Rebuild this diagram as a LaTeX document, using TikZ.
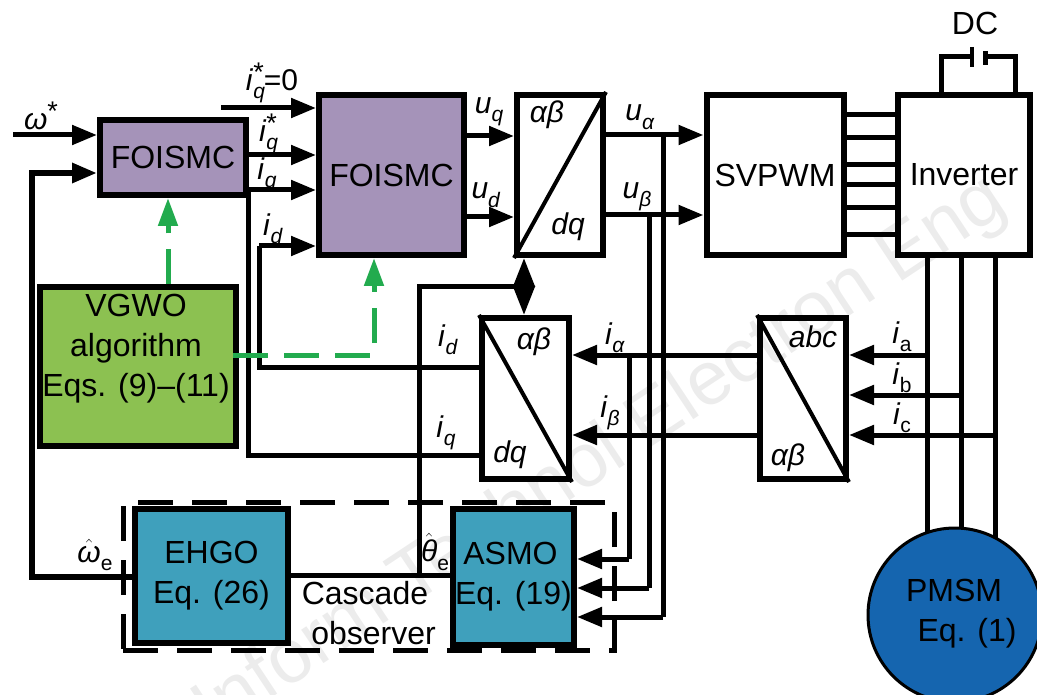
\documentclass[tikz,border=0pt]{standalone}
\usepackage{fontspec}
\setmainfont{Liberation Sans}
\usetikzlibrary{arrows.meta}
\definecolor{foiscol}{HTML}{A593B9}
\definecolor{vgwocol}{HTML}{8CC151}
\definecolor{obscol}{HTML}{3FA0BC}
\definecolor{pmsmcol}{HTML}{1565AF}
\definecolor{flowgreen}{HTML}{22AB4E}
\newcommand{\subx}[1]{\raisebox{-.28em}{\fontsize{21}{21}\selectfont #1}}
\newcommand{\starsub}[1]{\rlap{\subx{#1}}\raisebox{.3em}{\fontsize{27}{27}\selectfont *}}
\newcommand{\hatx}[1]{$\hat{\mbox{\textit{#1}}}$}
\tikzset{
    block/.style={draw,line width=6pt,inner sep=0pt,align=center,font=\fontsize{32}{40}\selectfont},
    lab/.style={inner sep=0pt,font=\fontsize{30}{34}\selectfont},
    txt/.style={inner sep=0pt,align=center,font=\fontsize{32}{40}\selectfont},
    sig/.style={line width=5pt,-{Triangle[length=25pt,width=19pt]}},
    wire/.style={line width=5pt},
    green flow/.style={flowgreen,line width=5pt,dash pattern=on 35pt off 16pt,-{Triangle[length=28pt,width=19pt]}},
    diag/.style={line width=4pt}
}
\begin{document}
\begin{tikzpicture}[x=1pt,y=-1pt]
    \useasboundingbox (0,0) rectangle (1037,695);
    \clip (0,0) rectangle (1037,695);
    \node[inner sep=0pt,rotate=33.5,text=gray!15,font=\fontsize{76}{76}\selectfont] (mark) at (601,457) {Inform Technol Electron Eng};
    \node[draw,line width=5pt,dash pattern=on 35pt off 19pt,inner sep=0pt,minimum width=491pt,minimum height=148pt] (casc) at (368.5,576) {};
    \node[block,fill=foiscol,minimum width=146pt,minimum height=75pt] (foisa) at (173,157.5) {FOISMC};
    \node[block,fill=foiscol,minimum width=145pt,minimum height=160pt] (foisb) at (391.5,175) {FOISMC};
    \node[block,minimum width=86pt,minimum height=160pt] (dqa) at (560,175) {};
    \node[block,minimum width=137pt,minimum height=160pt] (svpwm) at (775,175) {SVPWM};
    \node[block,minimum width=132pt,minimum height=160pt] (inv) at (964,175) {Inverter};
    \node[block,fill=vgwocol,minimum width=196pt,minimum height=158pt] (vgwo) at (138,366.5) {};
    \node[txt] (vgwotxt) at (136,349) {VGWO\\algorithm\\Eqs. (9)--(11)};
    \node[block,minimum width=87pt,minimum height=161pt] (dqb) at (525.5,398.5) {};
    \node[block,minimum width=86pt,minimum height=161pt] (abc) at (803,398.5) {};
    \node[block,fill=obscol,minimum width=153pt,minimum height=134pt] (ehgo) at (211.5,576) {EHGO\\Eq. (26)};
    \node[block,fill=obscol,minimum width=121pt,minimum height=136pt] (asmo) at (513.5,577) {ASMO\hspace*{6pt}\\Eq. (19)};
    \node[circle,draw,fill=pmsmcol,line width=3pt,minimum size=174pt,inner sep=0pt] (pmsm) at (955,615) {};
    \node[txt] (pmsmtxt) at (954,614) {PMSM\\\hspace*{26pt}Eq. (1)};
    \node[txt] (casctxt) at (365,613) {Cascade\\\hspace*{17pt}observer};
    \node[txt] (dc) at (975,23) {DC};

    \draw[diag] (dqa.south west) -- (dqa.north east);
    \draw[diag] (dqb.north west) -- (dqb.south east);
    \draw[diag] (abc.north west) -- (abc.south east);

    \coordinate (wref) at (13,135);
    \coordinate (idref) at (221,108);
    \draw[sig] (wref) -- (foisa.west |- wref);
    \draw[sig] (idref) -- (foisb.west |- idref);
    \draw[sig] (foisa.east |- 0,155) -- (foisb.west |- 0,155);
    \draw[sig] (foisa.east |- 0,190) -- (foisb.west |- 0,190);
    \draw[sig] (foisb.east |- 0,136) -- (dqa.west |- 0,136);
    \draw[sig] (foisb.east |- 0,217) -- (dqa.west |- 0,217);
    \draw[sig] (dqa.east |- 0,135) -- (svpwm.west |- 0,135);
    \draw[sig] (dqa.east |- 0,215) -- (svpwm.west |- 0,215);
    \foreach \y in {115,138,165,185,208,235}
        \draw[wire] (svpwm.east |- 0,\y) -- (inv.west |- 0,\y);

    \draw[wire] (dqb.west |- 0,367) -- (259,367) -- (259,246);
    \draw[sig] (259,246) -- (foisb.west |- 0,246);
    \draw[wire] (foisa.east |- 0,190) -- (248,190) -- (248,455) -- (dqb.west |- 0,455);
    \draw[sig,line width=6pt] (ehgo.west |- 0,577) -- (32,577) -- (32,173) -- (foisa.west |- 0,173);
    \draw[wire] (ehgo.east |- 0,575) -- (asmo.west |- 0,575);
    \draw[wire] (419,575) -- (419,287) -- (524,287);
    \draw[line width=5pt,{Triangle[length=29pt,width=21pt]}-{Triangle[length=29pt,width=21pt]}] (dqa.south -| 524,0) -- (dqb.north -| 524,0);

    \draw[sig] (abc.west |- 0,355) -- (dqb.east |- 0,355);
    \draw[sig] (abc.west |- 0,435) -- (dqb.east |- 0,435);
    \foreach \x/\yend in {927/533,961/528,995/538}
        \draw[wire] (inv.south -| \x,0) -- (\x,\yend);
    \draw[sig] (927,355) -- (abc.east |- 0,355);
    \draw[sig] (961,395) -- (abc.east |- 0,395);
    \draw[sig] (995,435) -- (abc.east |- 0,435);

    \draw[wire] (629,355) -- (629,559);
    \draw[sig] (629,559) -- (asmo.east |- 0,559);
    \draw[wire] (649,215) -- (649,588);
    \draw[sig] (649,588) -- (asmo.east |- 0,588);
    \draw[wire] (663,135) -- (663,617);
    \draw[sig] (663,617) -- (asmo.east |- 0,617);

    \draw[wire] (inv.north -| 941,0) -- (941,57) -- (972,57);
    \draw[wire] (inv.north -| 1015,0) -- (1015,57) -- (985,57);
    \draw[line width=3.5pt] (972,47) -- (972,67);
    \draw[line width=5pt] (985,51) -- (985,65);

    \draw[green flow] (vgwo.north -| 168,0) -- (foisa.south -| 168,0);
    \draw[green flow] ([xshift=-6pt]vgwo.east |- 0,355) -- (374,355) -- (foisb.south -| 374,0);

    \node[lab] (lw) at (41,116) {\textit{ω}\raisebox{.3em}{\fontsize{27}{27}\selectfont *}};
    \node[lab] (lizero) at (272,83) {\textit{i}\starsub{\textit{q}}=0};
    \node[lab] (listar) at (268,134) {\textit{i}\starsub{\textit{q}}};
    \node[lab] (liqa) at (267,175) {\textit{i}\subx{\textit{q}}};
    \node[lab] (lida) at (273,229) {\textit{i}\subx{\textit{d}}};
    \node[lab] (luq) at (489,112) {\textit{u}\subx{\textit{q}}};
    \node[lab] (lud) at (486,195) {\textit{u}\subx{\textit{d}}};
    \node[lab] (laba) at (547,115) {\textit{αβ}};
    \node[lab] (ldqa) at (568,227) {\textit{dq}};
    \node[lab] (lua) at (640,117) {\textit{u}\subx{\textit{α}}};
    \node[lab] (lub) at (637,197) {\textit{u}\subx{\textit{β}}};
    \node[lab] (lidb) at (448,340) {\textit{i}\subx{\textit{d}}};
    \node[lab] (liqb) at (446,433) {\textit{i}\subx{\textit{q}}};
    \node[lab] (labb) at (534,342) {\textit{αβ}};
    \node[lab] (ldqb) at (510,455) {\textit{dq}};
    \node[lab] (lia) at (615,338) {\textit{i}\subx{\textit{α}}};
    \node[lab] (lib) at (610,413) {\textit{i}\subx{\textit{β}}};
    \node[lab] (labc) at (813,337) {\textit{abc}};
    \node[lab] (labd) at (788,458) {\textit{αβ}};
    \node[lab] (lica) at (902,337) {\textit{i}\subx{a}};
    \node[lab] (licb) at (902,378) {\textit{i}\subx{b}};
    \node[lab] (licc) at (902,418) {\textit{i}\subx{c}};
    \node[lab] (lwe) at (95,555) {\hatx{ω}\subx{e}};
    \node[lab] (lthe) at (435,552) {\hatx{θ}\subx{e}};
\end{tikzpicture}
\end{document}
